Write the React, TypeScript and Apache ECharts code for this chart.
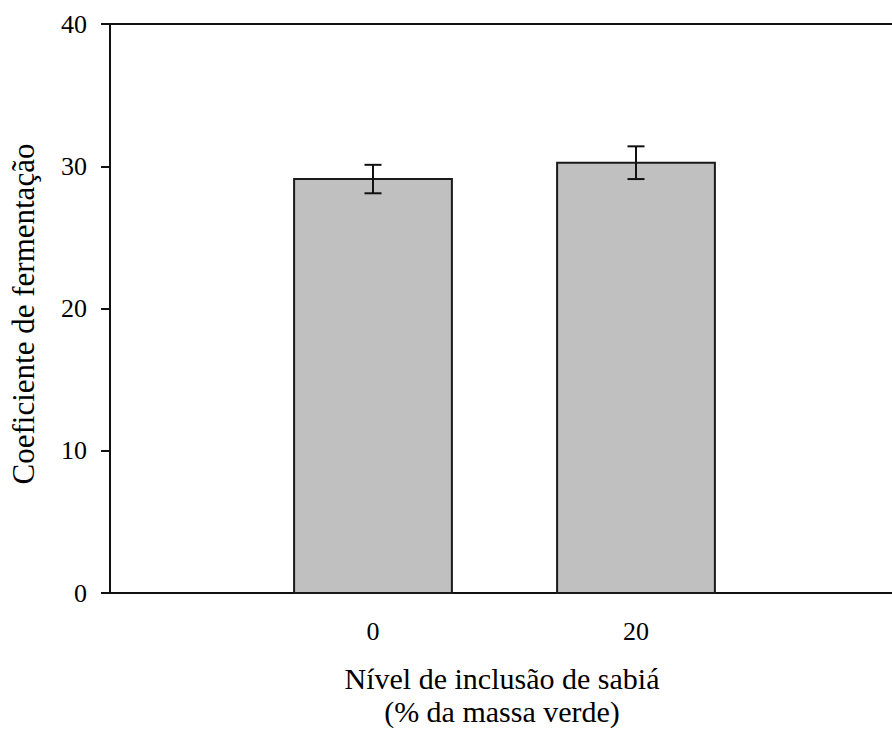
import React, { useEffect, useRef } from "react";
import * as echarts from "echarts";

const levels = [0, 20];
const means = [29.1, 30.25];
const errors = [1.0, 1.15];
const yTicks = [0, 10, 20, 30, 40];
const yTitle = "Coeficiente de fermentação";
const xTitle1 = "Nível de inclusão de sabiá";
const xTitle2 = "(% da massa verde)";

const FONT = "Times New Roman, Liberation Serif, DejaVu Serif, serif";

export default function App() {
  const ref = useRef<HTMLDivElement>(null);
  useEffect(() => {
    document.body.style.margin = "0";
    const chart = echarts.init(ref.current!, null, { renderer: "svg" });
    const barData = levels.map((l, i) => [l, means[i]]);
    const errData = levels.map((l, i) => [l, means[i] - errors[i], means[i] + errors[i]]);
    chart.setOption({
      animation: false,
      backgroundColor: "#ffffff",
      textStyle: { fontFamily: FONT },
      grid: { left: 110, top: 24, width: 792, height: 569 },
      xAxis: [
        {
          type: "value",
          min: -20,
          max: 40,
          interval: 20,
          position: "bottom",
          splitLine: { show: false },
          axisLine: { show: true, lineStyle: { color: "#111", width: 2 } },
          axisTick: { show: false },
          axisLabel: {
            margin: 25,
            color: "#000",
            fontFamily: FONT,
            fontSize: 26,
            formatter: (v: number) => (levels.includes(v) ? String(v) : ""),
          },
        },
        {
          type: "value",
          min: -20,
          max: 40,
          position: "top",
          splitLine: { show: false },
          axisLine: { show: true, onZero: false, lineStyle: { color: "#111", width: 2 } },
          axisTick: { show: false },
          axisLabel: { show: false },
        },
      ],
      yAxis: {
        type: "value",
        min: yTicks[0],
        max: yTicks[yTicks.length - 1],
        interval: 10,
        splitLine: { show: false },
        axisLine: { show: true, onZero: false, lineStyle: { color: "#111", width: 2 } },
        axisTick: { show: true, inside: false, length: 9, lineStyle: { color: "#111", width: 2 } },
        axisLabel: { margin: 23, color: "#000", fontFamily: FONT, fontSize: 26 },
      },
      series: [
        {
          type: "custom",
          xAxisIndex: 0,
          data: barData,
          renderItem: (params: any, api: any) => {
            const x = api.value(0);
            const y = api.value(1);
            const p1 = api.coord([x - 6, y]);
            const p2 = api.coord([x + 6, 0]);
            return {
              type: "rect",
              shape: { x: p1[0], y: p1[1], width: p2[0] - p1[0], height: p2[1] - p1[1] },
              style: { fill: "#c0c0c0", stroke: "#1a1a1a", lineWidth: 2 },
            };
          },
          z: 2,
        },
        {
          type: "custom",
          xAxisIndex: 0,
          data: errData,
          renderItem: (params: any, api: any) => {
            const x = api.value(0);
            const lo = api.coord([x, api.value(1)]);
            const hi = api.coord([x, api.value(2)]);
            const hw = 8.5;
            const st = { stroke: "#111", lineWidth: 2 };
            return {
              type: "group",
              children: [
                { type: "line", shape: { x1: lo[0], y1: lo[1], x2: hi[0], y2: hi[1] }, style: st },
                { type: "line", shape: { x1: lo[0] - hw, y1: lo[1], x2: lo[0] + hw, y2: lo[1] }, style: st },
                { type: "line", shape: { x1: hi[0] - hw, y1: hi[1], x2: hi[0] + hw, y2: hi[1] }, style: st },
              ],
            };
          },
          z: 3,
        },
      ],
      graphic: [
        {
          type: "text",
          x: 23,
          y: 314,
          rotation: Math.PI / 2,
          style: {
            text: yTitle,
            fontFamily: FONT,
            fontSize: 31,
            fill: "#000",
            align: "center",
            verticalAlign: "middle",
          },
        },
        {
          type: "text",
          x: 502,
          y: 678,
          style: {
            text: xTitle1,
            fontFamily: FONT,
            fontSize: 30,
            fill: "#000",
            align: "center",
            verticalAlign: "middle",
          },
        },
        {
          type: "text",
          x: 502,
          y: 711,
          style: {
            text: xTitle2,
            fontFamily: FONT,
            fontSize: 30,
            fill: "#000",
            align: "center",
            verticalAlign: "middle",
          },
        },
      ],
    });
    return () => chart.dispose();
  }, []);
  return (
    <div style={{ width: 892, height: 734, overflow: "hidden" }}>
      <div ref={ref} style={{ width: 902, height: 734 }} />
    </div>
  );
}
